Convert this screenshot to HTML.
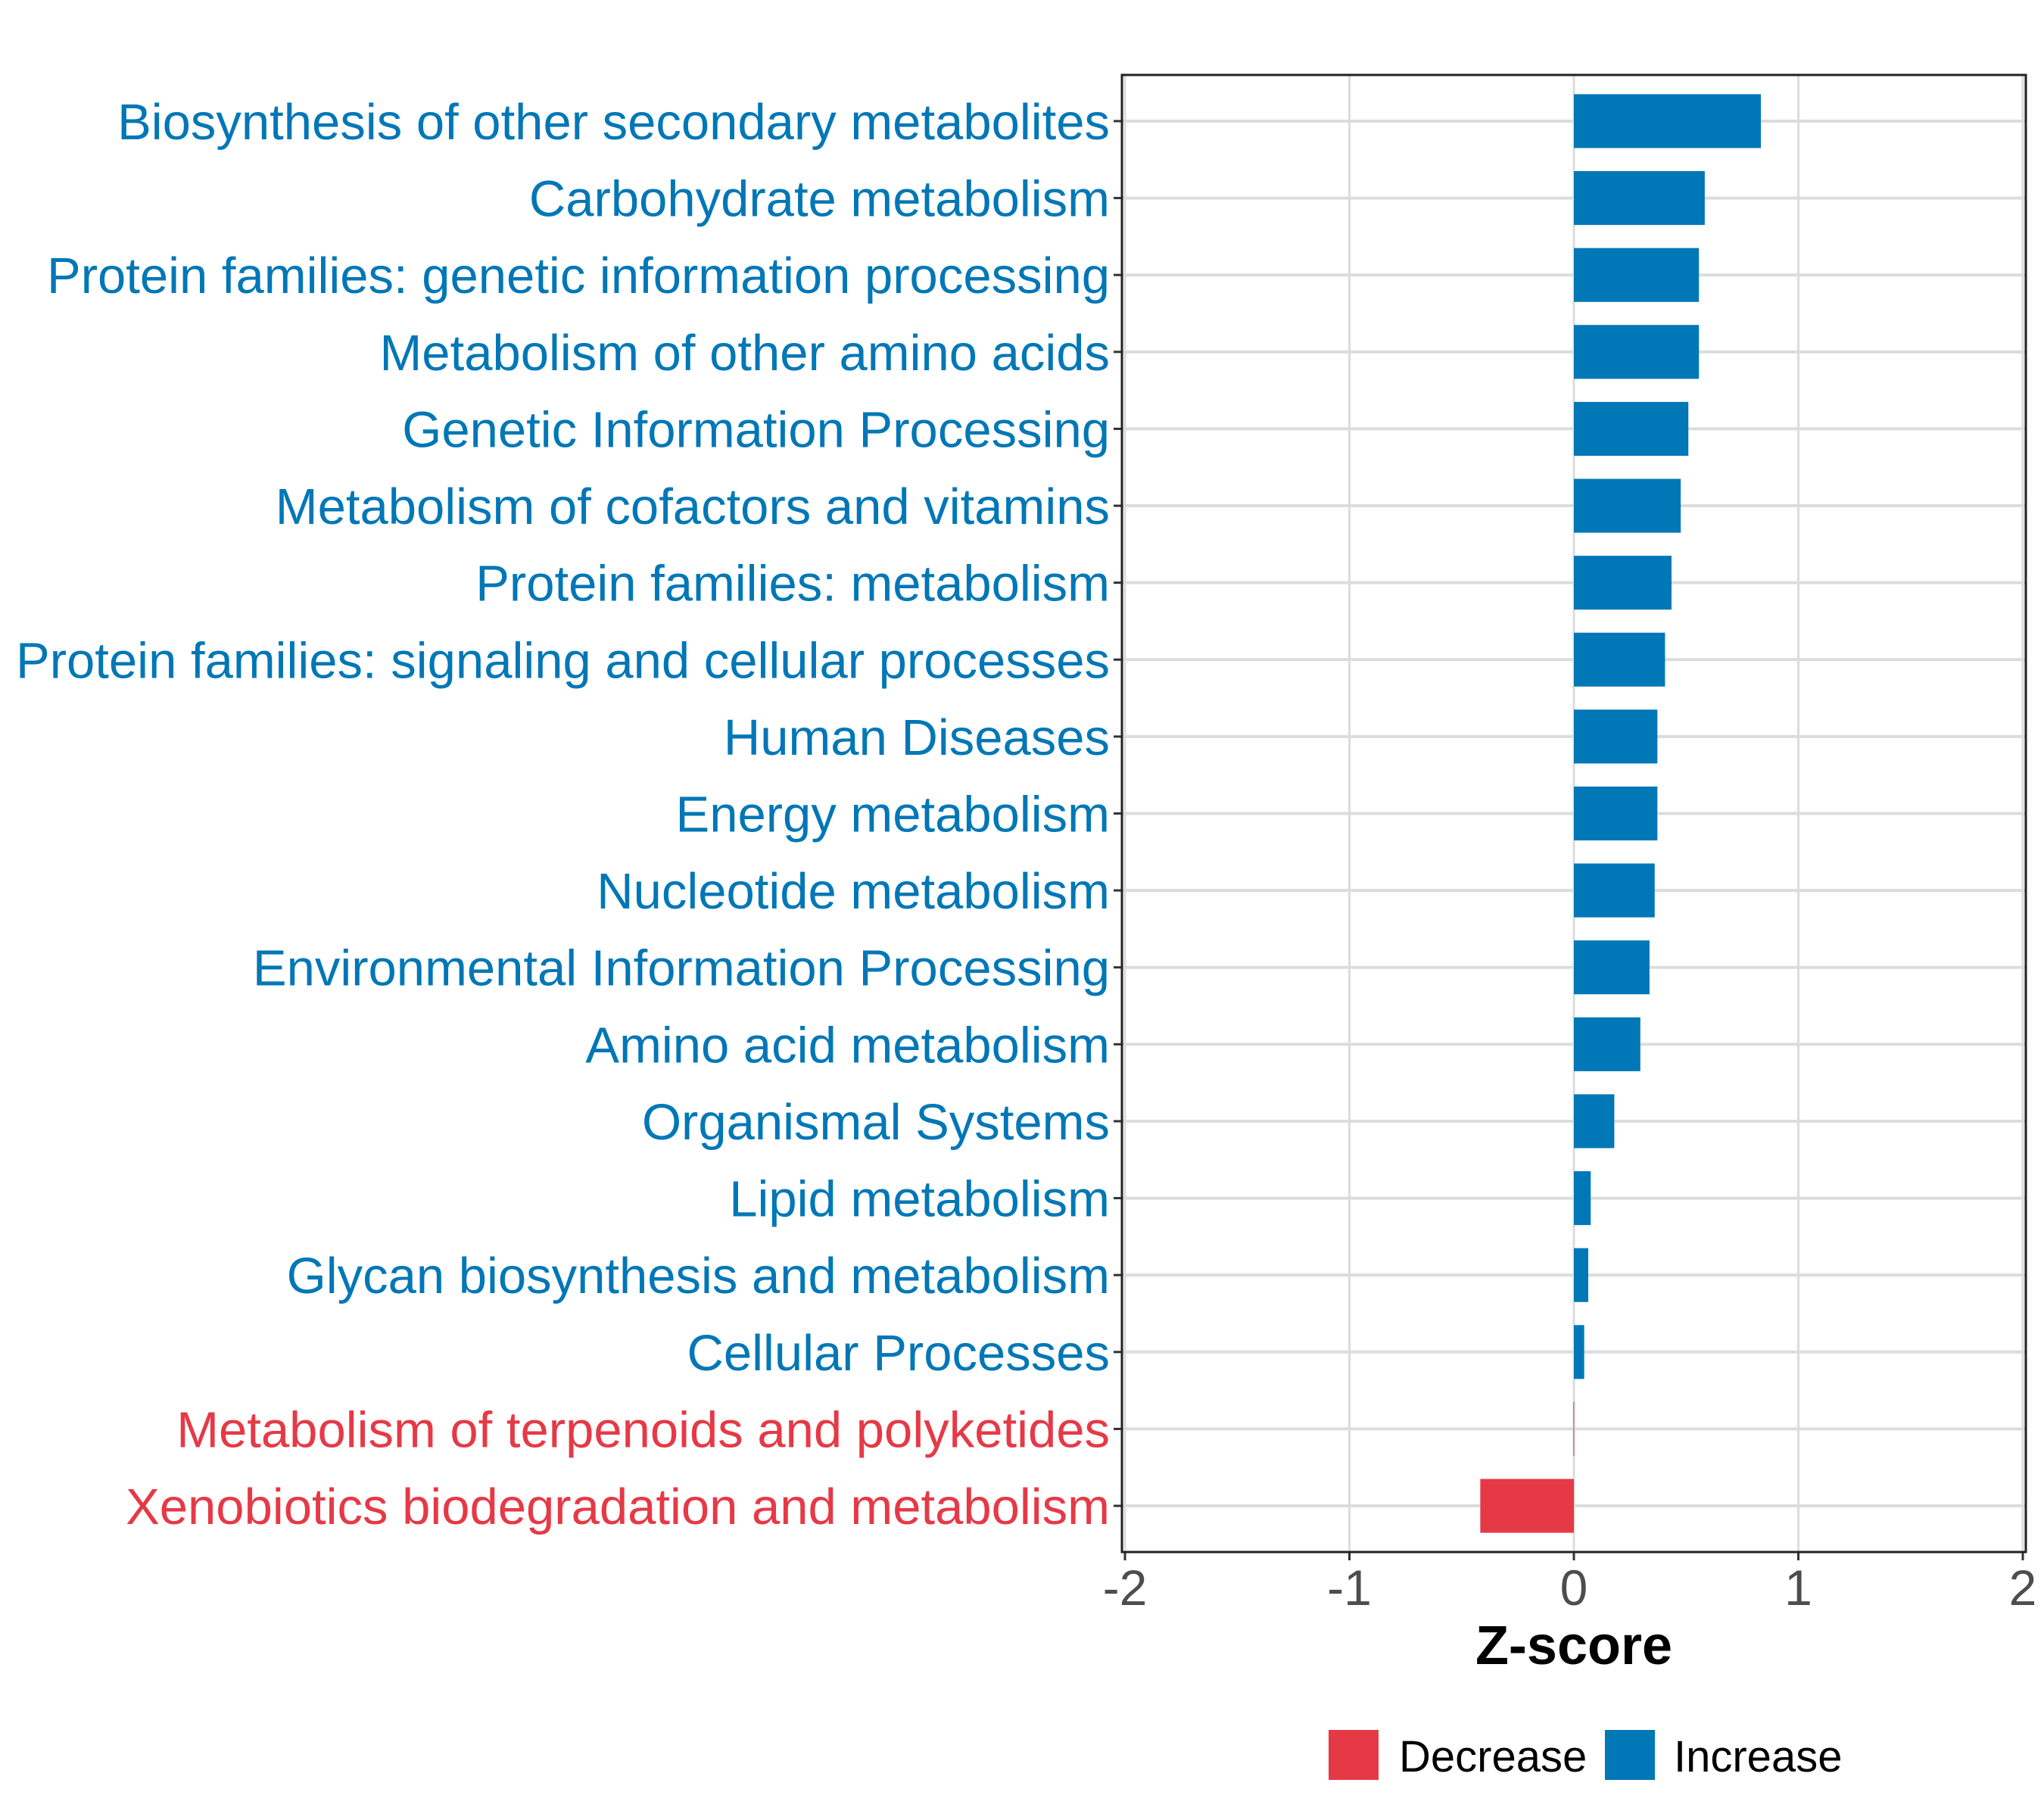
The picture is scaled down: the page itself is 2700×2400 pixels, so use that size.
<!DOCTYPE html>
<html><head><meta charset="utf-8"><style>
html,body{margin:0;padding:0;background:#fff;}
svg{display:block;font-family:"Liberation Sans",Arial,sans-serif;}
</style></head><body>
<svg id="chart" width="2700" height="2400" viewBox="0 0 2700 2400" xmlns="http://www.w3.org/2000/svg">
<rect x="0" y="0" width="2700" height="2400" fill="#fff"/>
<g id="grid"></g>
<g id="bars"></g>
<g id="ylabels"></g>
<g id="xaxis"></g>
<rect x="1482" y="99" width="1194" height="1951" fill="none" stroke="#222" stroke-width="3"/>
<text x="2079" y="2198" font-size="72" font-weight="bold" text-anchor="middle" fill="#000">Z-score</text>
<g>
<rect x="1755" y="2285" width="66" height="66" fill="#e63946"/>
<text x="1848" y="2340" font-size="58" fill="#000">Decrease</text>
<rect x="2120" y="2285" width="66" height="66" fill="#0077b6"/>
<text x="2211" y="2340" font-size="58" fill="#000">Increase</text>
</g>
</svg>
<script>
const categories = ["Biosynthesis of other secondary metabolites","Carbohydrate metabolism","Protein families: genetic information processing","Metabolism of other amino acids","Genetic Information Processing","Metabolism of cofactors and vitamins","Protein families: metabolism","Protein families: signaling and cellular processes","Human Diseases","Energy metabolism","Nucleotide metabolism","Environmental Information Processing","Amino acid metabolism","Organismal Systems","Lipid metabolism","Glycan biosynthesis and metabolism","Cellular Processes","Metabolism of terpenoids and polyketides","Xenobiotics biodegradation and metabolism"];
const zscores = [0.833,0.583,0.557,0.557,0.51,0.476,0.435,0.406,0.372,0.372,0.36,0.337,0.296,0.18,0.075,0.064,0.046,-0.002,-0.417];
const xTicks = [-2,-1,0,1,2];
const xTickLabels = ["-2","-1","0","1","2"];

const NS="http://www.w3.org/2000/svg";
const panelL=1482, panelR=2676, panelT=99, panelB=2050;
const xScale = v => 2079 + v*296.5;
const rowH = (panelB-panelT)/(categories.length+0.2);
const yScale = i => panelT + rowH*(0.6+i);
function mk(tag, attrs, parent){const e=document.createElementNS(NS,tag);for(const k in attrs)e.setAttribute(k,attrs[k]);parent.appendChild(e);return e;}
const grid=document.getElementById('grid'), bars=document.getElementById('bars'), yl=document.getElementById('ylabels'), xa=document.getElementById('xaxis');

xTicks.forEach((t,i)=>{
  const x=xScale(t);
  const g=mk('line',{x1:x,x2:x,y1:panelT,y2:panelB,stroke:'#dcdcdc','stroke-width':3},grid);
  
  
  const tk=mk('line',{x1:x,x2:x,y1:panelB,y2:panelB+11,stroke:'#333','stroke-width':3},xa);
  
  
  const tl=mk('text',{x:x,y:2120,'font-size':66,'text-anchor':'middle',fill:'#4d4d4d'},xa);
  tl.textContent=xTickLabels[i];
  
  
});
categories.forEach((c,i)=>{
  const y=yScale(i), v=zscores[i];
  const col = v<0 ? '#e63946' : '#0077b6';
  const g=mk('line',{x1:panelL,x2:panelR,y1:y,y2:y,stroke:'#dcdcdc','stroke-width':4},grid);
  
  
  const x0=xScale(0), x1=xScale(v);
  const b=mk('rect',{x:Math.min(x0,x1),y:y-rowH*0.35,width:Math.max(Math.abs(x1-x0),1),height:rowH*0.7,fill:col},bars);
  
  
  const tk=mk('line',{x1:panelL-11,x2:panelL,y1:y,y2:y,stroke:'#333','stroke-width':3},yl);
  
  
  const t=mk('text',{x:1466,y:y+24,'font-size':67,'text-anchor':'end',fill:col},yl);
  t.textContent=c;
  
  
});
</script>
</body></html>
